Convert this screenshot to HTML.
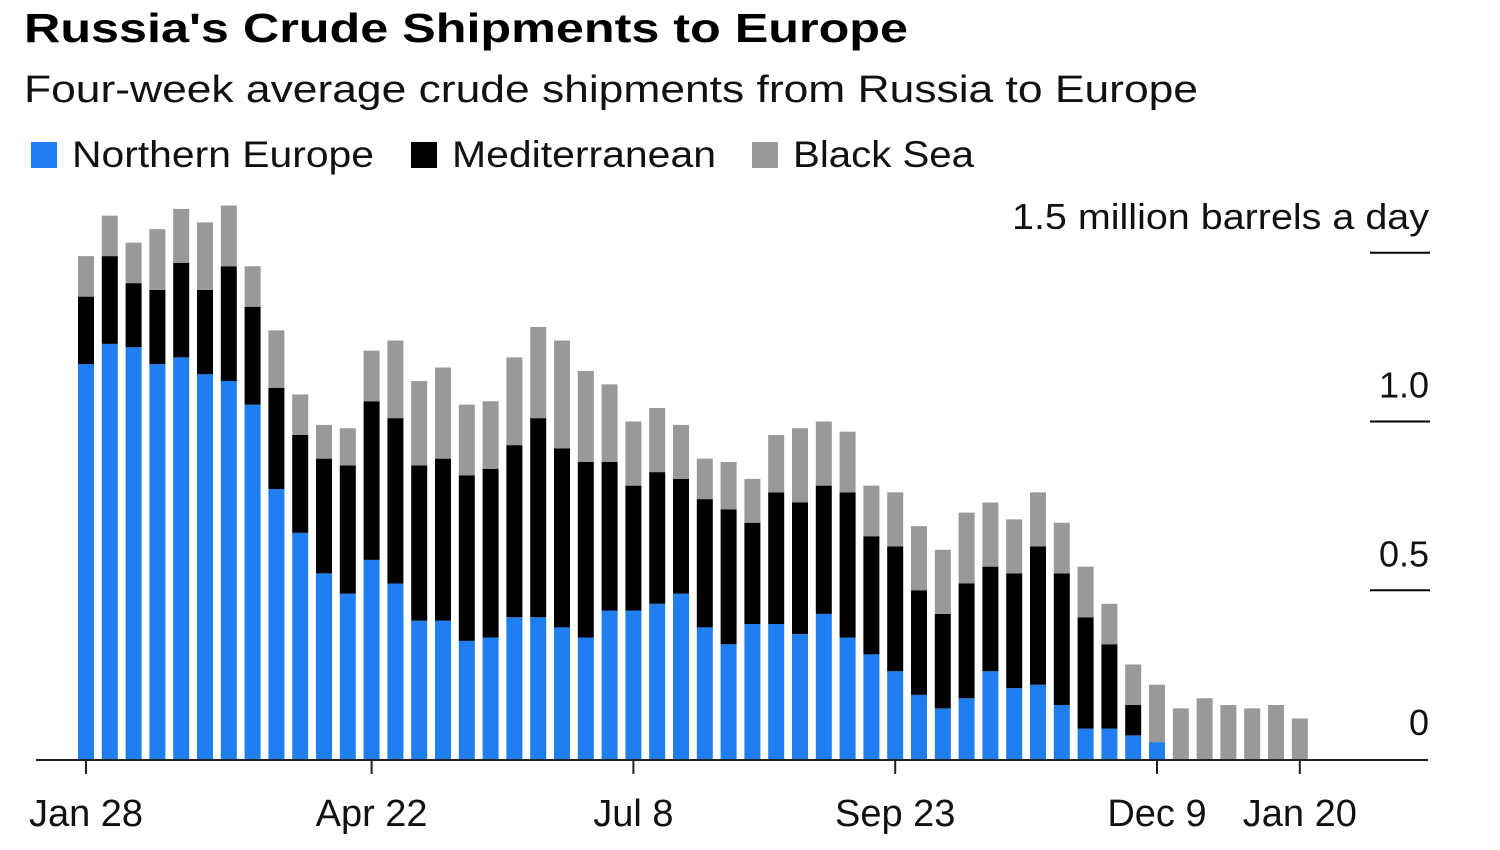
<!DOCTYPE html>
<html><head><meta charset="utf-8">
<style>
html,body{margin:0;padding:0;background:#fff;}
svg{display:block;font-family:"Liberation Sans",Arial,sans-serif;}
</style></head>
<body>
<svg id="chart" width="1500" height="850" viewBox="0 0 1500 850">
  <text x="24" y="42" font-size="41" font-weight="bold" fill="#000" textLength="884" lengthAdjust="spacingAndGlyphs">Russia's Crude Shipments to Europe</text>
  <text x="24" y="102" font-size="38" fill="#111" textLength="1174" lengthAdjust="spacingAndGlyphs">Four-week average crude shipments from Russia to Europe</text>
  <g>
    <g>
      <rect x="31" y="142" width="26" height="26" fill="#1f7ef0"/>
      <text x="72" y="167" font-size="37" fill="#111" textLength="302" lengthAdjust="spacingAndGlyphs">Northern Europe</text>
    </g>
    <g>
      <rect x="411" y="142" width="26" height="26" fill="#000"/>
      <text x="452" y="167" font-size="37" fill="#111" textLength="264" lengthAdjust="spacingAndGlyphs">Mediterranean</text>
    </g>
    <g>
      <rect x="752" y="142" width="26" height="26" fill="#999"/>
      <text x="793" y="167" font-size="37" fill="#111" textLength="181" lengthAdjust="spacingAndGlyphs">Black Sea</text>
    </g>
  </g>
  <g id="yaxis"></g>
  <g id="bars"></g>
  <g id="xaxis"></g>
</svg>
<script>
const northern = [1.17,1.23,1.22,1.17,1.19,1.14,1.12,1.05,0.80,0.67,0.55,0.49,0.59,0.52,0.41,0.41,0.35,0.36,0.42,0.42,0.39,0.36,0.44,0.44,0.46,0.49,0.39,0.34,0.40,0.40,0.37,0.43,0.36,0.31,0.26,0.19,0.15,0.18,0.26,0.21,0.22,0.16,0.09,0.09,0.07,0.05,0,0,0,0,0,0];
const mediterranean = [0.20,0.26,0.19,0.22,0.28,0.25,0.34,0.29,0.30,0.29,0.34,0.38,0.47,0.49,0.46,0.48,0.49,0.50,0.51,0.59,0.53,0.52,0.44,0.37,0.39,0.34,0.38,0.40,0.30,0.39,0.39,0.38,0.43,0.35,0.37,0.31,0.28,0.34,0.31,0.34,0.41,0.39,0.33,0.25,0.09,0,0,0,0,0,0,0];
const blackSea = [0.12,0.12,0.12,0.18,0.16,0.20,0.18,0.12,0.17,0.12,0.10,0.11,0.15,0.23,0.25,0.27,0.21,0.20,0.26,0.27,0.32,0.27,0.23,0.19,0.19,0.16,0.12,0.14,0.13,0.17,0.22,0.19,0.18,0.15,0.16,0.19,0.19,0.21,0.19,0.16,0.16,0.15,0.15,0.12,0.12,0.17,0.15,0.18,0.16,0.15,0.16,0.12];
const xTickIndex = [0,12,23,34,45,51];
const xTickLabels = ["Jan 28","Apr 22","Jul 8","Sep 23","Dec 9","Jan 20"];
const yTicks = [0,0.5,1.0,1.5];
const yTickLabels = ["0","0.5","1.0","1.5 million barrels a day"];

const NS = "http://www.w3.org/2000/svg";
const y0 = 759, pxPerUnit = 337.5, x0 = 86, step = 23.8, bw = 16;
const yScale = v => y0 - v * pxPerUnit;
const xScale = i => x0 + i * step;
function mk(tag, attrs, parent){const e=document.createElementNS(NS,tag);for(const k in attrs)e.setAttribute(k,attrs[k]);parent.appendChild(e);return e;}

const barsG = document.getElementById('bars');
const series = [[northern,'#1f7ef0','northern-europe'],[mediterranean,'#000','mediterranean'],[blackSea,'#999','black-sea']];
for (let i=0;i<northern.length;i++){
  let base = 0;
  for (const [arr,col,nm] of series){
    const v = arr[i];
    if (v>0){
      const r = mk('rect',{x:xScale(i)-bw/2,y:yScale(base+v),width:bw,height:yScale(base)-yScale(base+v),fill:col},barsG);
      
      
    }
    base += v;
  }
}

const yG = document.getElementById('yaxis');
yTicks.forEach((t,k)=>{
  const y = yScale(t);
  if (t>0){
    const l = mk('line',{x1:1370,x2:1430,y1:y,y2:y,stroke:'#000','stroke-width':2},yG);
    
    
  }
  const attrs = {x:1429,y:y-24,'text-anchor':'end','font-size':36,fill:'#111'};
  if (k===3){ attrs.textLength = 417; attrs.lengthAdjust = 'spacingAndGlyphs'; }
  const tx = mk('text',attrs,yG);
  tx.textContent = yTickLabels[k];
  
  
});

const xG = document.getElementById('xaxis');
const base = mk('line',{x1:36,x2:1428,y1:y0+1,y2:y0+1,stroke:'#222','stroke-width':2},xG);


xTickIndex.forEach((idx,k)=>{
  const x = xScale(idx);
  const l = mk('line',{x1:x,x2:x,y1:y0,y2:y0+15,stroke:'#222','stroke-width':2},xG);
  
  
  const tx = mk('text',{x:x,y:826,'text-anchor':'middle','font-size':38,fill:'#111'},xG);
  tx.textContent = xTickLabels[k];
  
  
});
</script>
</body></html>
